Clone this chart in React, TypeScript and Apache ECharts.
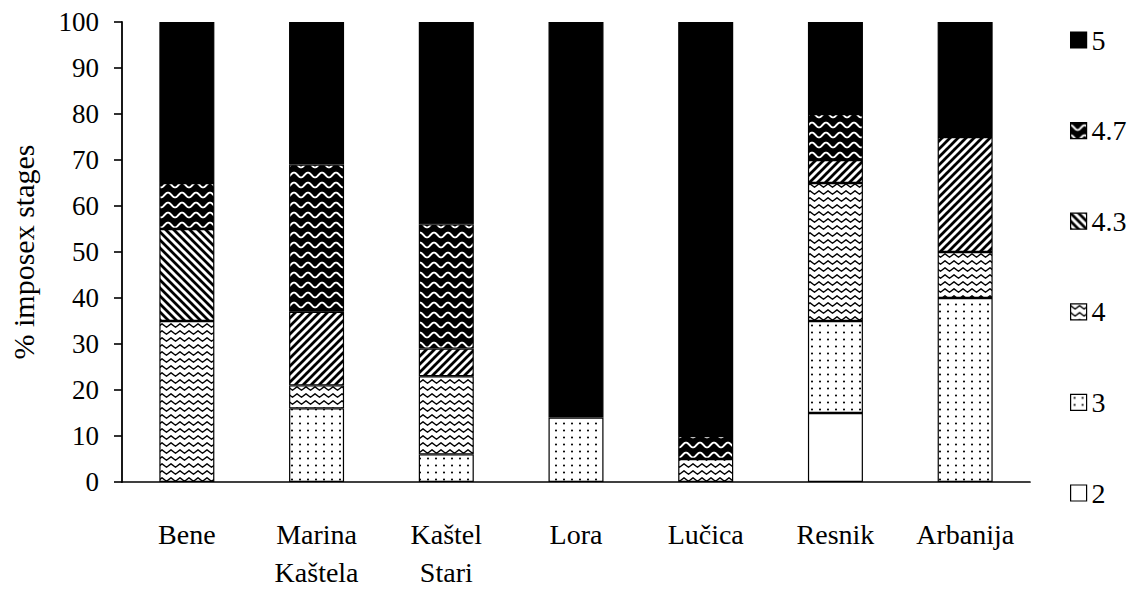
import React, { useEffect, useRef } from "react";
import * as echarts from "echarts";

const categories = ["Bene", "Marina\nKaštela", "Kaštel\nStari", "Lora", "Lučica", "Resnik", "Arbanija"];
const seriesNames = ["2", "3", "4", "4.3", "4.7", "5"];
const stage2 = [0, 0, 0, 0, 0, 15, 0];
const stage3 = [0, 16, 6, 14, 0, 20, 40];
const stage4 = [35, 5, 17, 0, 5, 30, 10];
const stage43 = [20, 16, 6, 0, 0, 5, 25];
const stage47 = [10, 32, 27, 0, 5, 10, 0];
const stage5 = [35, 31, 44, 86, 90, 20, 25];
const legendOrder = ["5", "4.7", "4.3", "4", "3", "2"];
const yAxisName = "% imposex stages";
// categories whose 4.3 segment uses the back-slash hatching (like the legend)
const backslashCategories = ["Bene"];

const FONT = "'Liberation Serif', 'Times New Roman', serif";

function tile(w: number, h: number, draw: (ctx: CanvasRenderingContext2D) => void) {
  const c = document.createElement("canvas");
  c.width = w;
  c.height = h;
  const ctx = c.getContext("2d") as CanvasRenderingContext2D;
  draw(ctx);
  return { image: c, repeat: "repeat", imageWidth: w, imageHeight: h } as any;
}

function makePatterns() {
  const dots = tile(8, 7, (ctx) => {
    ctx.fillStyle = "#fff";
    ctx.fillRect(0, 0, 8, 7);
    ctx.fillStyle = "#000";
    ctx.beginPath();
    ctx.arc(4, 3.5, 1.05, 0, Math.PI * 2);
    ctx.fill();
  });
  const lightWave = tile(9, 7, (ctx) => {
    ctx.fillStyle = "#fff";
    ctx.fillRect(0, 0, 9, 7);
    ctx.strokeStyle = "#000";
    ctx.lineWidth = 1.4;
    ctx.lineJoin = "round";
    ctx.beginPath();
    ctx.moveTo(-4.5, 5.2);
    ctx.lineTo(0, 1.8);
    ctx.lineTo(4.5, 5.2);
    ctx.lineTo(9, 1.8);
    ctx.lineTo(13.5, 5.2);
    ctx.stroke();
  });
  const darkWave = tile(14, 10, (ctx) => {
    ctx.fillStyle = "#000";
    ctx.fillRect(0, 0, 14, 10);
    ctx.strokeStyle = "#fff";
    ctx.lineWidth = 1.9;
    ctx.beginPath();
    for (let x = -2; x <= 16; x += 0.5) {
      const y = 5 - 2.4 * Math.cos((2 * Math.PI * x) / 14);
      if (x === -2) ctx.moveTo(x, y);
      else ctx.lineTo(x, y);
    }
    ctx.stroke();
  });
  const stripes = (forward: boolean) =>
    tile(8, 8, (ctx) => {
      ctx.fillStyle = "#fff";
      ctx.fillRect(0, 0, 8, 8);
      ctx.strokeStyle = "#000";
      ctx.lineWidth = 2.8;
      ctx.beginPath();
      for (const k of [-8, 0, 8]) {
        if (forward) {
          ctx.moveTo(k - 1, 9);
          ctx.lineTo(k + 9, -1);
        } else {
          ctx.moveTo(k - 1, -1);
          ctx.lineTo(k + 9, 9);
        }
      }
      ctx.stroke();
    });
  return { dots, lightWave, darkWave, fwd: stripes(true), back: stripes(false) };
}

export default function App() {
  const ref = useRef<HTMLDivElement>(null);

  useEffect(() => {
    document.body.style.margin = "0";
    if (!ref.current) return;
    const chart = echarts.init(ref.current, null, { renderer: "svg" });
    const p = makePatterns();

    const border = { borderColor: "#000", borderWidth: 1.2 };
    const values = [stage2, stage3, stage4, stage43, stage47, stage5];
    const fills: any[] = ["#fff", p.dots, p.lightWave, p.back, p.darkWave, "#000"];

    const series = seriesNames.map((name, si) => ({
      name,
      type: "bar",
      stack: "total",
      barWidth: 55,
      itemStyle: { color: fills[si], ...border },
      emphasis: { disabled: true },
      data: values[si].map((v, ci) => {
        if (v === 0) return "-";
        if (name === "4.3" && backslashCategories.indexOf(categories[ci]) < 0) {
          return { value: v, itemStyle: { color: p.fwd, ...border } };
        }
        return v;
      }),
    }));

    chart.setOption({
      animation: false,
      backgroundColor: "#fff",
      textStyle: { fontFamily: FONT, color: "#000" },
      grid: { left: 122, right: 98, top: 22, bottom: 103, containLabel: false },
      legend: {
        data: legendOrder,
        orient: "vertical",
        left: 1065,
        top: 21,
        itemWidth: 16,
        itemHeight: 16,
        itemGap: 62.6,
        icon: "rect",
        selectedMode: false,
        itemStyle: { borderColor: "#000", borderWidth: 1.2 },
        textStyle: { fontFamily: FONT, fontSize: 28, color: "#000", lineHeight: 28 },
      },
      xAxis: {
        type: "category",
        data: categories,
        axisLine: { lineStyle: { color: "#000", width: 1.7 } },
        axisTick: { show: false },
        axisLabel: {
          fontFamily: FONT,
          fontSize: 28,
          color: "#000",
          lineHeight: 38,
          margin: 33,
          interval: 0,
        },
      },
      yAxis: {
        type: "value",
        min: 0,
        max: 100,
        interval: 10,
        name: yAxisName,
        nameLocation: "middle",
        nameRotate: 90,
        nameGap: 84,
        nameTextStyle: { fontFamily: FONT, fontSize: 30, color: "#000" },
        axisLine: { show: true, lineStyle: { color: "#000", width: 1.8 } },
        axisTick: { show: true, length: 8, lineStyle: { color: "#000", width: 1.6 } },
        splitLine: { show: false },
        axisLabel: { fontFamily: FONT, fontSize: 27, color: "#000", margin: 23 },
      },
      series,
    });

    return () => chart.dispose();
  }, []);

  return <div ref={ref} style={{ width: 1128, height: 591 }} />;
}
